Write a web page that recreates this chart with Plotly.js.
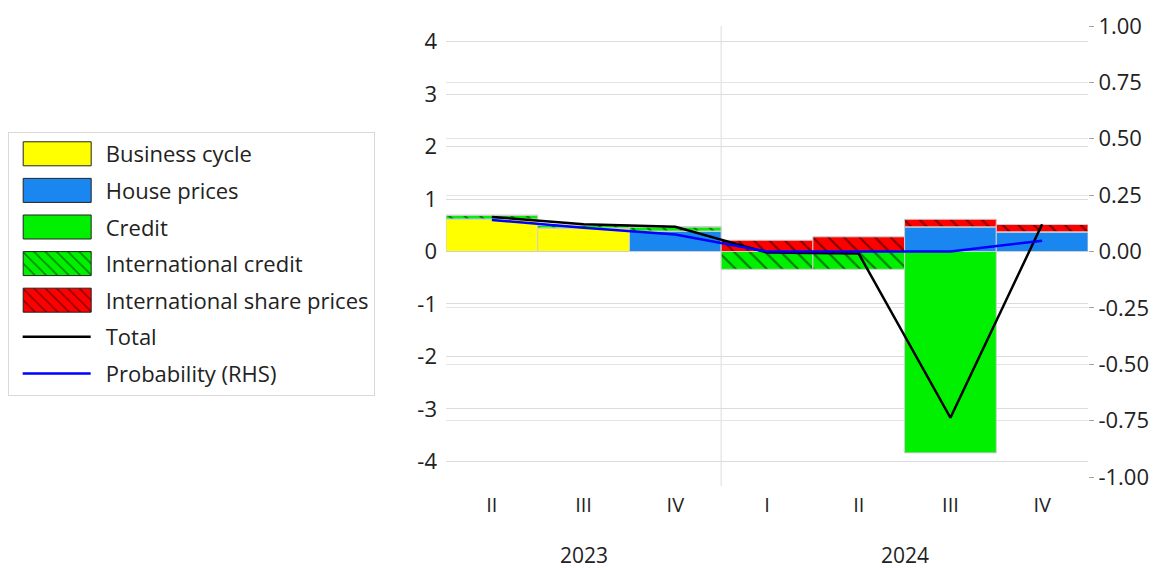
<!DOCTYPE html>
<html>
<head>
<meta charset="utf-8">
<script src="https://cdn.plot.ly/plotly-3.0.1.min.js"></script>
<style>
  html, body { margin: 0; padding: 0; background: #fff; }
  #chart { width: 1176px; height: 568px; }
</style>
</head>
<body>
<div id="chart"></div>
<script>
// ---- Data ----
const years = ['2023', '2023', '2023', '2024', '2024', '2024', '2024'];
const quarters = ['II', 'III', 'IV', 'I', 'II', 'III', 'IV'];

const businessCycle = [0.62, 0.45, 0, 0, 0, 0, 0];
const housePrices = [0, 0, 0.39, 0, 0, 0.47, 0.375];
const credit = [0, 0, 0, 0, 0, -3.84, 0];
const internationalCredit = [0.07, 0.05, 0.08, -0.34, -0.34, 0, 0];
const internationalSharePrices = [0, 0, 0, 0.215, 0.28, 0.145, 0.14];
const total = [0.66, 0.52, 0.47, -0.02, -0.04, -3.17, 0.52];
const probability = [0.14, 0.105, 0.075, 0.0, 0.0, 0.0, 0.048];

// tick labels (plain hyphen minus, as in the original)
const leftTickValues = [-4, -3, -2, -1, 0, 1, 2, 3, 4];
const leftTickText = ['-4', '-3', '-2', '-1', '0', '1', '2', '3', '4'];
const rightTickValues = [-1, -0.75, -0.5, -0.25, 0, 0.25, 0.5, 0.75, 1];
const rightTickText = ['-1.00', '-0.75', '-0.50', '-0.25', '0.00', '0.25', '0.50', '0.75', '1.00'];

// unique category keys (year + quarter), labelled with the quarter only
const keys = quarters.map(function (q, i) { return years[i] + ' ' + q; });

const FONT = '"Open Sans", sans-serif';
const TXT = '#222222';
const outline = { color: '#cfcfcf', width: 1 };

function barTrace(name, values, color, hatched) {
  const t = {
    type: 'bar', name: name, x: keys, y: values,
    legendgroup: name,
    marker: { color: color, line: outline },
    hoverinfo: 'skip'
  };
  if (hatched) {
    t.marker.pattern = { shape: '\\', fgcolor: '#000000', bgcolor: color, size: 11, solidity: 0.18, fillmode: 'overlay' };
  }
  return t;
}

const data = [
  barTrace('Business cycle', businessCycle, '#ffff00', false),
  barTrace('House prices', housePrices, '#1a86f0', false),
  barTrace('Credit', credit, '#00f000', false),
  barTrace('International credit', internationalCredit, '#00f000', true),
  barTrace('International share prices', internationalSharePrices, '#ff0000', true),
  { type: 'scatter', mode: 'lines', name: 'Total', x: keys, y: total, legendgroup: 'Total',
    line: { color: '#000000', width: 2.5 }, hoverinfo: 'skip' },
  { type: 'scatter', mode: 'lines', name: 'Probability (RHS)', x: keys, y: probability, yaxis: 'y2',
    legendgroup: 'Probability', line: { color: '#0000ff', width: 2.5 }, hoverinfo: 'skip' }
];

// year labels centred under their quarters
const yearAnnotations = [];
years.forEach(function (y, i) {
  if (i === 0 || years[i - 1] !== y) {
    let j = i;
    while (j + 1 < years.length && years[j + 1] === y) j++;
    yearAnnotations.push({
      text: y, xref: 'x', x: (i + j) / 2, yref: 'paper', y: -0.173,
      showarrow: false, xanchor: 'center', yanchor: 'middle',
      font: { family: FONT, size: 21, color: TXT }
    });
  }
});

const layout = {
  width: 1176, height: 568,
  margin: { l: 442, r: 88, t: 26, b: 91 },
  paper_bgcolor: '#ffffff', plot_bgcolor: '#ffffff',
  font: { family: FONT, color: TXT, size: 21 },
  barmode: 'relative', bargap: 0,
  showlegend: true,
  legend: {
    x: -0.6765, y: 0.765, xanchor: 'left', yanchor: 'top',
    bgcolor: '#ffffff', bordercolor: '#d9d9d9', borderwidth: 1,
    font: { family: FONT, size: 22, color: TXT },
    traceorder: 'grouped', tracegroupgap: 5, itemwidth: 87
  },
  xaxis: {
    type: 'category',
    tickmode: 'array', tickvals: keys, ticktext: quarters,
    showgrid: false, zeroline: false, showline: false, ticks: '',
    tickfont: { family: FONT, size: 20, color: TXT },
    ticklabelstandoff: 14
  },
  yaxis: {
    range: [-4.3, 4.3],
    tickmode: 'array', tickvals: leftTickValues, ticktext: leftTickText,
    showgrid: true, gridcolor: '#dcdcdc', gridwidth: 1,
    zeroline: true, zerolinecolor: '#bdbdbd', zerolinewidth: 1,
    showline: false, ticks: '',
    tickfont: { family: FONT, size: 22, color: TXT },
    ticklabelstandoff: 8
  },
  yaxis2: {
    overlaying: 'y', side: 'right',
    range: [-1, 1],
    tickmode: 'array', tickvals: rightTickValues, ticktext: rightTickText,
    showgrid: true, gridcolor: '#e4e4e4', gridwidth: 1,
    zeroline: false, showline: false,
    ticks: 'outside', ticklen: 5, tickcolor: '#a0a0a0', tickwidth: 1,
    tickfont: { family: FONT, size: 22, color: TXT }
  },
  annotations: yearAnnotations,
  shapes: [
    { type: 'line', xref: 'x', yref: 'paper', x0: 2.5, x1: 2.5, y0: -0.02, y1: 1,
      line: { color: '#dcdcdc', width: 1 }, layer: 'below' }
  ]
};

Plotly.newPlot('chart', data, layout, { staticPlot: true, displayModeBar: false }).then(function (gd) {
  // enlarge legend swatches to resemble the original's wide boxes
  gd.querySelectorAll('.legend .legendpoints path').forEach(function (p) {
    const d = p.getAttribute('d') || '';
    if (d.indexOf('M6,6H-6V-6H6Z') === 0) {
      p.setAttribute('d', 'M34,12H-34V-12H34Z');
      p.style.stroke = '#222222';
      p.style.strokeWidth = '1px';
    }
  });
  gd.querySelectorAll('.legend .legendlines path').forEach(function (p) {
    p.setAttribute('d', 'M14,0h68');
  });
  // nudge the legend box a few pixels left, as in the original
  const lg = gd.querySelector('g.legend');
  if (lg) {
    const tr = lg.getAttribute('transform') || '';
    const m = tr.match(/translate\(\s*([-\d.]+)[ ,]+([-\d.]+)\s*\)/);
    if (m) lg.setAttribute('transform', 'translate(' + (parseFloat(m[1]) - 4) + ',' + m[2] + ')');
  }
});
</script>
</body>
</html>
